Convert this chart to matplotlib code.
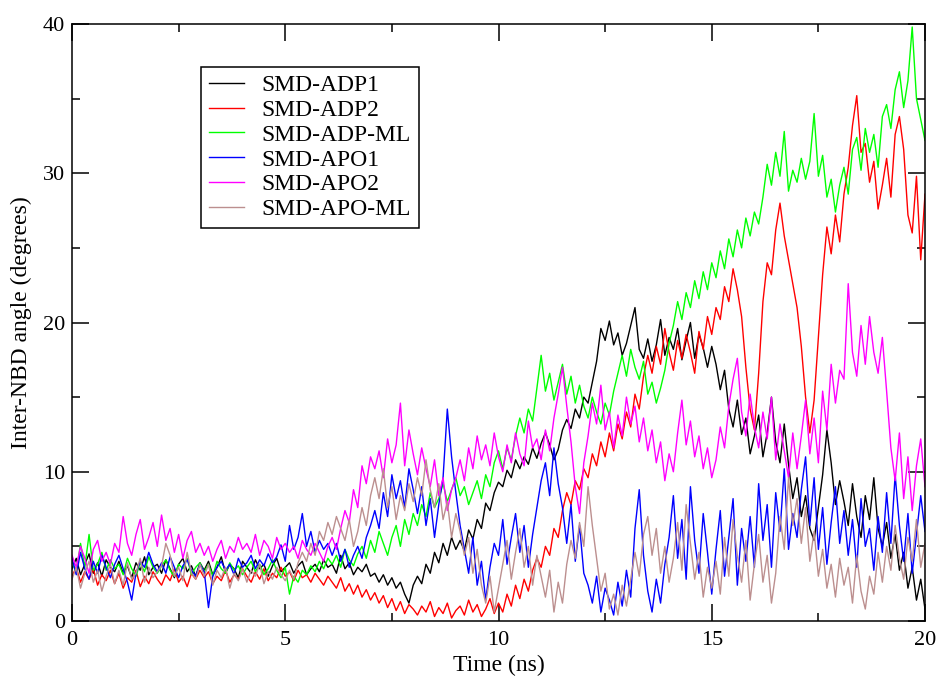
"""Inter-NBD angle during SMD runs (xmgrace-style figure)."""

import numpy as np
import matplotlib
matplotlib.use("Agg")
import matplotlib.pyplot as plt
from matplotlib.ticker import MultipleLocator

plt.rcParams["font.family"] = ["Liberation Serif", "DejaVu Serif"]

# time axis: 0 .. 20 ns, 0.1 ns step
time_ns = np.round(np.arange(201) * 0.1, 1)

adp1 = [3.5, 4.2, 3.1, 3.8, 4.5, 3.2, 3.9, 3.0, 4.1, 3.6, 3.3,
        4.0, 3.2, 3.7, 2.9, 3.9, 3.4, 4.3, 3.1, 3.6, 3.8,
        3.2, 4.1, 3.5, 2.9, 3.8, 4.2, 3.3, 3.7, 3.0, 3.9,
        3.4, 4.0, 3.1, 3.6, 4.3, 3.2, 3.8, 3.5, 2.9, 4.0,
        3.6, 3.2, 4.1, 3.5, 3.8, 3.0, 3.7, 4.2, 3.3, 3.6,
        3.9, 3.2, 3.7, 4.0, 3.1, 3.5, 3.8, 3.3, 4.1, 3.6,
        3.8, 3.2, 4.4, 3.5, 3.9, 3.1, 3.6, 3.3, 3.8, 3.0,
        3.2, 2.6, 3.1, 2.4, 2.9, 2.2, 2.6, 1.8, 1.2, 2.4,
        3.0, 2.5, 3.8, 3.2, 4.6, 3.9, 5.2, 4.4, 5.6, 4.8,
        5.4, 4.7, 6.1, 5.5, 6.8, 6.2, 7.9, 7.4, 8.6, 9.3,
        9.0, 10.1, 9.6, 10.8, 10.2, 11.0, 10.5, 11.6, 10.9, 11.9,
        12.6, 11.8, 10.8, 11.5, 12.8, 13.5, 12.9, 14.2, 13.6, 15.0,
        14.6, 16.0, 17.4, 19.6, 18.8, 20.1, 18.5, 19.3, 17.8, 18.6,
        19.8, 21.0, 18.2, 17.6, 18.9, 17.4, 18.5, 20.2, 17.8, 19.0,
        18.2, 19.6, 17.5, 18.8, 20.0, 17.6, 19.2, 18.3, 17.0, 18.4,
        17.2, 15.5, 16.8, 14.2, 13.0, 14.8, 12.5, 13.6, 11.2, 12.4,
        13.8, 11.0, 12.6, 15.0, 12.0, 10.6, 13.2, 10.5, 8.2, 9.6,
        7.0, 8.4, 6.2, 5.4, 7.6, 9.8, 12.8, 10.6, 7.8, 9.4,
        8.0, 6.4, 9.2, 7.0, 5.6, 8.4, 6.8, 9.6, 6.2, 5.0,
        6.6, 4.2, 5.8, 3.4, 4.6, 2.2, 3.6, 1.4, 2.8, 0.8]

adp2 = [3.0, 3.6, 2.6, 3.3, 2.8, 3.5, 2.4, 3.1, 2.7, 3.4, 2.5,
        3.2, 2.2, 2.9, 2.6, 3.4, 2.3, 3.0, 2.5, 3.3, 2.8,
        2.4, 3.1, 2.7, 3.5, 2.6, 3.0, 2.3, 3.2, 2.8, 3.4,
        2.9, 3.3, 2.5, 3.0, 2.7, 3.4, 2.6, 3.1, 2.8, 3.5,
        3.0, 2.6, 3.3, 2.8, 3.5, 2.7, 3.2, 2.9, 3.6, 3.0,
        3.3, 2.7, 3.4, 2.9, 3.1, 2.6, 3.2, 2.8, 2.4, 3.0,
        2.6, 2.2, 2.9, 2.0, 2.5, 1.8, 2.4, 1.6, 2.1, 1.4,
        1.9, 1.2, 1.7, 0.9, 1.5, 0.7, 1.3, 0.5, 1.1, 0.8,
        0.4, 1.0, 0.6, 1.3, 0.3, 0.9, 0.5, 1.2, 0.2, 0.7,
        1.0, 0.4, 1.4, 0.6, 1.1, 0.3, 0.8, 1.5, 0.5, 1.2,
        0.6, 1.8, 1.0, 2.4, 1.5, 2.8, 2.0, 3.4, 4.2, 3.6,
        5.0, 4.4, 6.2, 5.6, 7.4, 8.6, 7.8, 9.4, 8.8, 10.2,
        9.6, 11.2, 10.4, 12.0, 11.0, 12.6, 11.4, 13.2, 12.2, 14.0,
        13.0, 15.2, 14.2, 16.4, 17.8, 16.6, 18.4, 17.2, 19.6, 18.0,
        16.8, 18.8, 17.6, 19.2, 18.0, 16.6, 19.4, 18.2, 20.4, 19.2,
        21.0, 20.2, 22.4, 21.4, 23.6, 22.2, 20.4, 17.0, 14.2, 12.8,
        16.6, 21.4, 24.0, 23.2, 26.2, 28.0, 25.8, 24.2, 22.6, 21.0,
        18.4, 15.0, 12.6, 14.8, 19.0, 23.2, 26.4, 24.6, 27.2, 25.4,
        28.6, 30.4, 33.2, 35.2, 31.4, 32.0, 29.4, 30.8, 27.6, 29.2,
        31.0, 28.4, 32.6, 33.8, 31.6, 27.2, 26.0, 29.8, 24.2, 28.6]

adp_ml = [4.0, 3.2, 5.2, 3.6, 5.8, 3.4, 3.8, 4.6, 3.4, 4.1, 3.5,
          3.8, 3.1, 4.2, 3.5, 3.0, 3.9, 3.3, 4.3, 3.6, 3.2,
          3.7, 4.1, 3.4, 3.0, 3.8, 3.5, 4.2, 3.1, 3.6, 3.9,
          3.3, 3.8, 3.0, 4.0, 3.5, 3.2, 3.9, 3.4, 3.7, 3.1,
          3.6, 4.0, 3.3, 3.8, 3.1, 3.5, 4.1, 3.4, 2.9, 3.6,
          1.8, 3.0, 2.6, 3.4, 3.1, 3.7, 3.3, 4.0, 3.5, 4.2,
          3.8, 4.4, 3.6, 4.8, 4.1, 3.7, 4.5, 5.0, 4.2, 5.4,
          4.6, 6.0, 5.2, 4.4, 5.6, 6.4, 5.0, 6.8, 5.8, 7.2,
          6.4, 7.8, 7.0, 8.6, 7.6, 8.2, 9.2, 8.0, 8.8, 9.6,
          8.4, 9.0, 7.8, 8.6, 9.4, 8.2, 9.8, 9.0, 10.6, 11.4,
          10.2, 11.6, 10.8, 12.4, 13.6, 12.6, 14.2, 13.4, 15.6, 17.8,
          15.4, 16.6, 14.8, 16.0, 17.2, 15.2, 16.4, 14.6, 15.8, 14.4,
          13.6, 15.0, 14.0, 13.2, 14.6, 13.8, 15.4, 16.6, 17.8, 16.4,
          18.2, 17.0, 16.2, 17.4, 15.2, 16.0, 14.6, 15.6, 16.8, 18.6,
          19.8, 21.4, 20.2, 22.0, 21.0, 22.8, 21.6, 23.4, 22.2, 24.0,
          23.0, 24.8, 23.6, 25.6, 24.4, 26.2, 25.0, 27.0, 25.8, 27.4,
          26.6, 28.4, 30.6, 29.2, 31.4, 29.8, 32.8, 28.8, 30.2, 29.4,
          31.0, 29.6, 30.8, 34.0, 29.8, 31.2, 28.4, 29.6, 27.4, 29.2,
          30.4, 28.6, 31.6, 32.4, 30.2, 33.0, 31.4, 32.6, 30.4, 33.8,
          34.6, 33.0, 35.6, 36.8, 34.4, 36.2, 39.8, 35.0, 33.6, 32.2]

apo1 = [4.2, 3.1, 4.6, 3.5, 2.8, 4.0, 3.2, 4.4, 3.6, 2.9, 3.8,
        4.4, 3.5, 2.6, 1.4, 3.2, 4.0, 3.6, 4.6, 3.8, 3.3,
        3.9, 3.2, 4.3, 3.6, 2.9, 3.7, 4.1, 3.4, 3.0, 3.8,
        3.3, 0.9, 3.0, 3.6, 4.0, 3.4, 3.8, 3.1, 4.2, 3.6,
        3.9, 4.4, 3.5, 4.1, 3.7, 4.5, 3.9, 4.3, 5.1, 4.0,
        6.4, 4.8, 5.6, 7.2, 5.0, 6.0, 4.6, 5.4, 4.8, 5.2,
        4.4, 5.2, 4.0, 4.8, 3.6, 4.4, 5.0, 4.2, 5.6, 6.4,
        7.4, 6.2, 8.6, 7.0, 9.8, 8.2, 9.4, 7.6, 10.2, 8.8,
        7.2, 9.0, 6.4, 8.2, 5.6, 7.8, 9.6, 14.2, 11.0, 8.6,
        6.4, 4.8, 3.2, 5.6, 2.4, 4.0, 1.4, 3.6, 5.2, 4.4,
        6.8, 3.8, 5.6, 7.2, 4.6, 6.4, 3.6, 5.8, 7.6, 9.4,
        10.6, 8.4, 11.6, 9.2, 7.6, 5.2, 7.8, 4.0, 6.4, 3.2,
        2.4, 1.2, 3.0, 0.6, 2.2, 1.4, 0.4, 2.6, 1.0, 3.4,
        1.6, 6.2, 8.8, 4.4, 2.0, 0.6, 2.8, 1.2, 3.8, 5.6,
        8.4, 4.2, 6.8, 2.8, 9.0, 5.4, 3.2, 7.2, 4.6, 1.8,
        4.8, 7.4, 3.0, 5.6, 8.2, 2.4, 6.2, 4.0, 7.0, 3.6,
        9.2, 5.4, 7.8, 3.6, 8.6, 6.0, 10.2, 4.8, 7.2, 5.6,
        8.8, 11.0, 6.4, 9.6, 4.8, 7.6, 3.8, 6.6, 9.0, 5.2,
        7.4, 4.4, 6.8, 3.6, 8.2, 5.0, 6.2, 3.4, 7.0, 4.6,
        8.6, 5.2, 9.8, 6.4, 4.0, 7.2, 3.2, 5.8, 8.4, 6.0]

apo2 = [4.4, 3.6, 5.0, 4.2, 3.2, 4.8, 5.4, 4.0, 4.6, 3.8, 5.2,
        4.6, 7.0, 5.2, 4.4, 5.8, 6.8, 4.8, 5.6, 6.6, 5.0,
        7.1, 5.4, 6.2, 4.6, 5.8, 4.2, 5.4, 6.0, 4.6, 5.2,
        4.4, 5.0, 4.0, 4.8, 5.4, 4.2, 5.0, 4.6, 5.6, 4.8,
        5.2, 4.6, 5.8, 4.4, 5.4, 5.0, 4.2, 5.6, 4.8, 5.2,
        4.6, 5.0, 4.2, 5.4, 4.8, 4.4, 5.2, 4.6, 4.0, 5.0,
        5.6, 4.8, 6.2, 7.4, 6.6, 8.8, 7.6, 10.4, 9.2, 11.0,
        10.2, 11.4, 9.6, 12.2, 10.6, 11.8, 14.6, 10.4, 12.8, 11.2,
        9.8, 11.6, 10.2, 9.0, 10.8, 8.4, 9.6, 7.4, 8.8, 9.6,
        10.8, 9.4, 11.6, 10.2, 12.4, 10.8, 11.8, 10.4, 12.6, 11.0,
        10.0, 11.8, 10.6, 12.6, 11.2, 10.4, 13.4, 11.6, 12.2, 10.8,
        12.8, 11.4, 13.6, 15.2, 17.0, 14.4, 12.0, 9.0, 7.2, 10.6,
        12.4, 14.6, 13.2, 15.8, 12.8, 14.0, 11.6, 13.8, 12.4, 15.0,
        13.2, 14.4, 12.0, 13.6, 11.4, 12.8, 10.6, 12.0, 9.4, 11.2,
        10.0, 12.6, 14.8, 11.8, 13.4, 11.0, 12.4, 10.2, 11.6, 9.6,
        10.8, 13.0, 11.6, 14.4, 16.2, 17.6, 14.0, 12.4, 15.2, 13.0,
        11.6, 14.0, 12.2, 15.0, 10.8, 13.2, 11.4, 9.6, 12.6, 10.2,
        12.4, 14.8, 11.2, 13.6, 10.6, 15.4, 12.8, 17.2, 14.6, 16.8,
        16.2, 22.6, 18.0, 16.4, 19.8, 17.2, 20.4, 18.0, 16.6, 19.0,
        15.4, 11.6, 9.4, 12.6, 8.2, 11.0, 7.4, 10.4, 12.2, 9.0]

apo_ml = [2.8, 3.6, 2.2, 3.2, 4.0, 2.6, 3.4, 2.0, 3.0, 3.8, 2.5,
          3.4, 2.4, 3.9, 2.8, 3.2, 4.2, 2.6, 3.6, 2.9, 3.3,
          3.7, 5.2, 4.4, 3.0, 3.6, 2.7, 4.6, 3.2, 2.8, 3.8,
          3.0, 3.8, 2.4, 3.4, 2.9, 3.6, 2.2, 3.2, 2.7, 3.5,
          2.6, 3.4, 3.0, 3.8, 2.5, 3.3, 2.8, 3.6, 3.1, 2.7,
          3.4, 2.8, 3.9, 4.6, 4.0, 5.2, 4.4, 6.0, 5.4, 6.6,
          5.8, 7.0, 6.2, 5.4, 6.8, 5.0, 6.0, 7.6, 6.4, 8.4,
          9.6, 8.2, 10.2, 7.6, 9.0, 6.8, 8.4, 7.4, 9.2, 8.0,
          9.6, 8.4, 10.8, 8.8, 7.6, 9.2, 6.8, 8.0, 5.6, 7.2,
          6.0, 4.4, 5.6, 3.2, 4.8, 2.4, 1.2, 3.0, 0.6, 2.2,
          3.8, 5.4, 2.8, 4.6, 6.2, 3.6, 5.0, 2.4, 4.4, 3.0,
          1.6, 3.4, 0.6, 2.6, 1.2, 3.8, 5.4, 4.2, 6.6, 5.0,
          9.0, 6.4, 4.2, 2.0, 3.2, 0.8, 1.8, 0.4, 2.4, 1.0,
          2.8, 4.6, 3.0, 5.8, 7.0, 4.4, 6.2, 3.2, 5.0, 2.6,
          4.2, 6.6, 3.4, 7.8, 5.2, 2.8, 4.6, 1.6, 3.6, 2.2,
          4.0, 1.8, 5.6, 3.0, 6.8, 4.4, 2.6, 5.4, 1.4, 3.8,
          5.8, 2.6, 4.4, 1.2, 3.2, 7.0, 4.8, 9.6, 6.4, 8.2,
          5.2, 7.6, 4.0, 6.0, 3.0, 4.8, 2.2, 3.8, 1.6, 4.2,
          2.4, 3.6, 1.2, 4.4, 2.0, 0.8, 3.0, 1.8, 4.6, 2.6,
          5.0, 3.4, 6.4, 4.2, 2.8, 5.6, 4.0, 6.8, 3.6, 5.2]

series = [adp1, adp2, adp_ml, apo1, apo2, apo_ml]
labels = ["SMD-ADP1", "SMD-ADP2", "SMD-ADP-ML", "SMD-APO1", "SMD-APO2", "SMD-APO-ML"]
colors = ["#000000", "#ff0000", "#00ff00", "#0000ff", "#ff00ff", "#bc8f8f"]

fig = plt.figure(figsize=(9.41, 6.77), dpi=100)
ax = fig.add_axes([72 / 941, 1 - 621 / 677, 853 / 941, 597 / 677])

for vals, lab, col in zip(series, labels, colors):
    ax.plot(time_ns, vals, color=col, lw=1.0, label=lab)

ax.set_xlim(0, 20)
ax.set_ylim(0, 40)
ax.xaxis.set_major_locator(MultipleLocator(5))
ax.xaxis.set_minor_locator(MultipleLocator(2.5))
ax.yaxis.set_major_locator(MultipleLocator(10))
ax.yaxis.set_minor_locator(MultipleLocator(5))
ax.tick_params(which="both", direction="in", top=True, right=True, width=1.1)
ax.tick_params(which="major", length=12)
ax.tick_params(which="minor", length=6)
ax.tick_params(axis="x", labelsize=16, pad=7)
ax.tick_params(axis="y", labelsize=16, pad=5)
for sp in ax.spines.values():
    sp.set_linewidth(1.1)

ax.set_xlabel("Time (ns)", fontsize=17, labelpad=4)
ax.set_ylabel("Inter-NBD angle (degrees)", fontsize=17, labelpad=8)

leg = ax.legend(loc="upper left", bbox_to_anchor=(201 / 941, 1 - 67 / 677),
                bbox_transform=fig.transFigure, borderaxespad=0,
                fontsize=17, frameon=True, fancybox=False, framealpha=1,
                handlelength=1.5, handletextpad=0.75, labelspacing=0.14,
                borderpad=0.32)
leg.get_frame().set_edgecolor("black")
leg.get_frame().set_linewidth(1.1)

fig.savefig("out.png", dpi=100)
